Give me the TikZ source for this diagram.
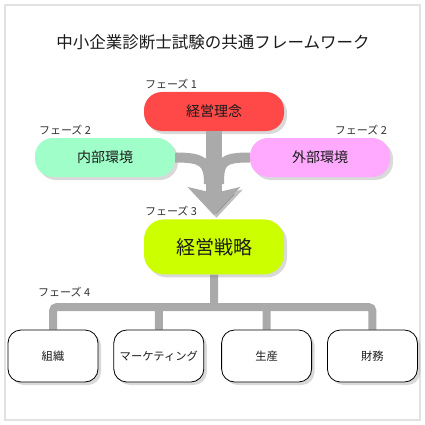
\documentclass[tikz,border=0pt]{standalone}
\usepackage{fontspec}
\setmainfont{Noto Sans CJK JP}
\usepackage{xcolor}
\definecolor{mainDark}{HTML}{1A1A1A}
\definecolor{visionColor}{HTML}{FF4848}
\definecolor{innerColor}{HTML}{A0FFC8}
\definecolor{outerColor}{HTML}{FFAAFF}
\definecolor{strategyColor}{HTML}{CCFF00}
\definecolor{flowColor}{HTML}{AAAAAA}
\definecolor{frameColor}{HTML}{E2E2E2}
\usepackage{tikz}
\usetikzlibrary{positioning,calc,arrows.meta,shadows,backgrounds}
\tikzset{
  boxShadow/.style={
    drop shadow={shadow xshift=3pt, shadow yshift=-3pt, opacity=0.3}
 },
  phaseBox/.style={
    rectangle,
    rounded corners=18pt,
    fill=#1,
    minimum width=140pt,
    minimum height=39pt,
    text=mainDark,
    font=\fontsize{14}{16}\selectfont,
    boxShadow
 },
  strategyBox/.style={
    phaseBox=strategyColor,
    rounded corners=20pt,
    minimum height=55pt,
    font=\fontsize{19}{22}\selectfont
 },
  areaBox/.style={
    rectangle,
    rounded corners=13pt,
    draw=black,
    line width=0.8pt,
    fill=white,
    minimum width=90pt,
    minimum height=52pt,
    inner sep=1pt,
    text=mainDark,
    font=\fontsize{11.3}{13}\selectfont,
    boxShadow
 },
  phaseLabel/.style={
    inner sep=1pt,
    text=mainDark!90,
    font=\fontsize{11}{12}\selectfont
 },
  flowLine/.style={
    draw=flowColor,
    line width=#1,
    preaction={draw=black, opacity=0.25, transform canvas={shift={(2.5pt,-2.5pt)}}}
 }
}

\begin{document}
\begin{tikzpicture}[x=1pt, y=-1pt, node distance=15pt]
            \useasboundingbox (0,0) rectangle (425,425);
            \draw[frameColor, line width=2pt] (5,5) rectangle (420,420);

            \node[mainDark, font=\fontsize{16.5}{18}\selectfont] (title) at (213,42) {中小企業診断士試験の共通フレームワーク};

            \node[phaseBox=visionColor] (vision) at (214,111.5) {経営理念};
            \node[phaseBox=innerColor] (inner) at (105,157.5) {内部環境};
            \node[phaseBox=outerColor] (outer) at (320,157.5) {外部環境};
            \node[strategyBox, below=88pt of vision] (strategy) {経営戦略};

            \node[phaseLabel, above right=2pt and 0pt of vision.north west] (phase1) {フェーズ 1};
            \node[phaseLabel, above right=2pt and 3pt of inner.north west] (phase2in) {フェーズ 2};
            \node[phaseLabel, above left=2pt and 2pt of outer.north east] (phase2out) {フェーズ 2};
            \node[phaseLabel, above right=2pt and 0pt of strategy.north west] (phase3) {フェーズ 3};

            % the environments flow into the vision arrow
            \coordinate (mergeL) at (209,184);
            \coordinate (mergeR) at (219,184);
            \draw[flowLine=10pt] (inner.east) .. controls +(28,0) and +(0,-22) .. (mergeL)
                                 (outer.west) .. controls +(-28,0) and +(0,-22) .. (mergeR);
            \draw[flowLine=16pt, -{Stealth[length=28pt, width=52pt, inset=6pt]}, shorten >=4pt] (vision.south) -- (strategy.north);

            \node[areaBox] (org) at (53,356) {組織};
            \node[areaBox, right=of org] (marketing) {マーケティング};
            \node[areaBox, right=17pt of marketing] (production) {生産};
            \node[areaBox, right=of production] (finance) {財務};

            \node[phaseLabel, anchor=west] (phase4) at (37,292) {フェーズ 4};

            \coordinate (hub) at (214,307);
            \begin{scope}[on background layer]
            \draw[flowLine=8pt, rounded corners=4pt] (org.north) |- (hub) -| (finance.north)
                  (strategy.south) -- (hub)
                  (marketing.north) -- (marketing.north |- hub)
                  (production.north) -- (production.north |- hub);
            \end{scope}
        \end{tikzpicture}
\end{document}
